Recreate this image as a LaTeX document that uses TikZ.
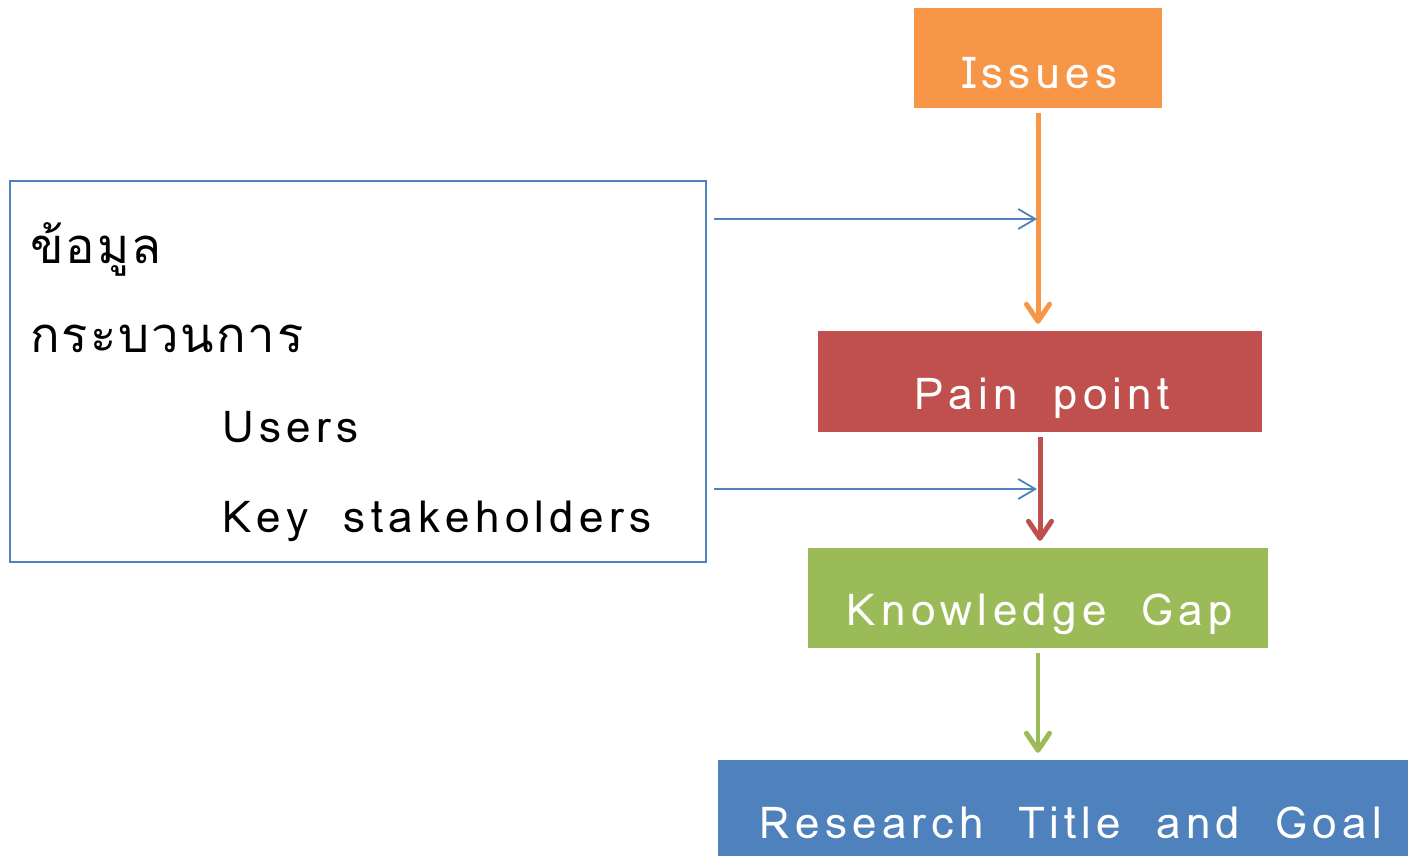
\documentclass[tikz,border=0pt]{standalone}
\usepackage{fontspec}
\newfontfamily\thaifont[Script=Thai, LetterSpace=4]{Loma}
\newfontfamily\latfont[LetterSpace=12]{Loma}
\usetikzlibrary{arrows.meta}
\definecolor{cOrange}{HTML}{F79646}
\definecolor{cRed}{HTML}{C0504D}
\definecolor{cGreen}{HTML}{9BBB59}
\definecolor{cBlue}{HTML}{4F81BD}
\newcommand{\wg}{\hspace{0.8em}}
\tikzset{
  fbox/.style={rectangle, draw=none, inner sep=0pt, minimum width=#1},
  boxtext/.style={text=white, inner sep=0pt, anchor=base, font=\latfont\fontsize{44}{50}\selectfont},
  lefttext/.style={text=black, inner sep=0pt, anchor=base west, font=\latfont\fontsize{44}{50}\selectfont},
  thaitext/.style={text=black, inner sep=0pt, anchor=base west, font=\thaifont\fontsize{49}{55}\selectfont},
  flowarrow/.style={line width=5pt, -{Straight Barb[length=17pt, width=23pt, line width=5pt, line cap=round, line join=round]}, shorten <=5pt, shorten >=7pt},
  thinarrow/.style={draw=cBlue, line width=1.5pt, -{Straight Barb[length=17pt, width=20pt, line width=1.8pt]}}
}
\begin{document}
\begin{tikzpicture}[x=1pt,y=-1pt]
\useasboundingbox (0,0) rectangle (1408,855);
\fill[white] (0,0) rectangle (1408,855);
% boxes
\node[fbox=248pt, minimum height=100pt, fill=cOrange] (issues) at (1038,58) {};
\node[fbox=444pt, minimum height=101pt, fill=cRed] (pain) at (1040,381.5) {};
\node[fbox=460pt, minimum height=100pt, fill=cGreen] (know) at (1038,598) {};
\node[fbox=700pt, minimum height=100pt, fill=cBlue] (research) at (1068,810) {};
\node[rectangle, draw=cBlue, line width=1.5pt, inner sep=0pt, minimum width=696pt, minimum height=381pt] (left) at (358,371.5) {};
% box texts
\node[boxtext] (issuesT) at (1040,88) {Issues};
\node[boxtext] (painT) at (1042,409) {Pain\wg point};
\node[boxtext] (knowT) at (1040,625) {Knowledge\wg Gap};
\node[boxtext] (resT) at (1071,838) {Research\wg Title\wg and\wg Goal};
% left texts
\node[thaitext] (t1) at (30,263) {ข้อมูล};
\node[thaitext] (t2) at (30,352) {กระบวนการ};
\node[lefttext] (t3) at (222,442) {Users};
\node[lefttext] (t4) at (222,532) {Key\wg stakeholders};
% flow arrows
\draw[flowarrow, draw=cOrange] (issues.south) -- (issues.south |- pain.north);
\draw[flowarrow, draw=cRed] (pain.south) -- (pain.south |- know.north);
\draw[flowarrow, draw=cGreen, line width=4pt] (know.south) -- (know.south |- research.north);
% thin arrows
\coordinate (e1) at (1037,219);
\coordinate (e2) at (1037,489);
\draw[thinarrow, shorten <=7pt] (left.east |- e1) -- (e1);
\draw[thinarrow, shorten <=7pt] (left.east |- e2) -- (e2);
\end{tikzpicture}
\end{document}
